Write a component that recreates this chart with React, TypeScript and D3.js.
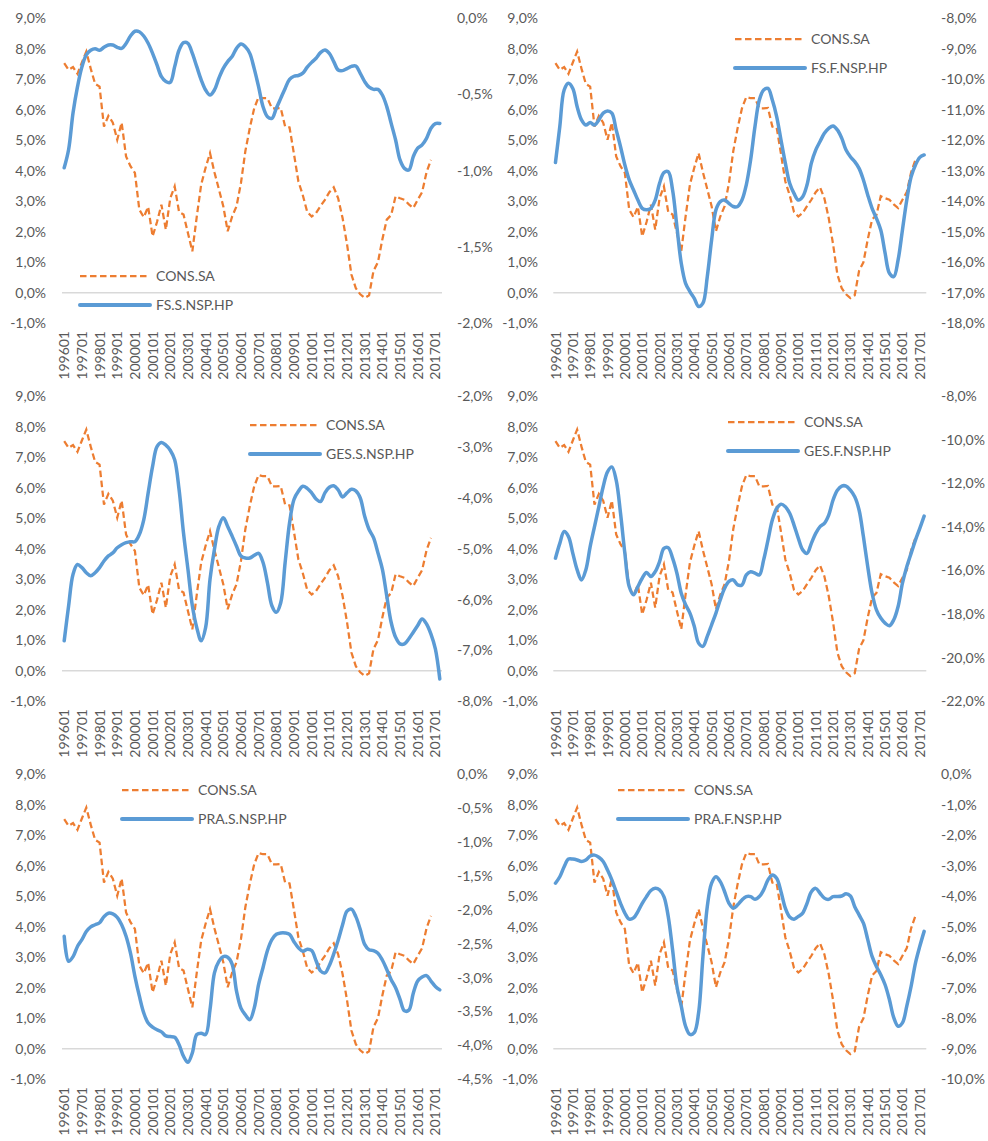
import React from 'react';
import * as d3 from 'd3';

// ---------- DATA ----------
const YEARS = [1996, 1997, 1998, 1999, 2000, 2001, 2002, 2003, 2004, 2005, 2006, 2007, 2008, 2009, 2010, 2011, 2012, 2013, 2014, 2015, 2016, 2017];
const QUARTER_SUFFIX = ['01', '02', '03', '04'];
// 1996Q1 .. 2017Q2 (86 quarters)
const CATEGORIES = YEARS.flatMap((y) => QUARTER_SUFFIX.map((q) => `${y}${q}`)).slice(0, 86);
const TICK_LABELS = YEARS.map((y) => `${y}01`);
const LEFT_TICKS = [-1, 0, 1, 2, 3, 4, 5, 6, 7, 8, 9];

// CONS.SA (left axis, %), 1996Q1 .. 2016Q4
const CONS_SA = [
  7.53, 7.31, 7.40, 7.18, 7.55, 7.91, 7.35, 6.85, 6.76, 5.45,
  5.80, 5.58, 5.02, 5.58, 4.47, 4.15, 3.93, 2.73, 2.48, 2.82,
  1.85, 2.32, 2.89, 2.07, 3.10, 3.49, 2.65, 2.57, 1.96, 1.36,
  2.50, 3.55, 4.10, 4.58, 3.95, 3.40, 2.84, 2.02, 2.50, 2.84,
  3.60, 4.65, 5.40, 6.05, 6.42, 6.38, 6.38, 6.05, 6.05, 6.06,
  5.45, 5.42, 4.55, 3.65, 3.20, 2.65, 2.50, 2.62, 2.84, 3.05,
  3.30, 3.46, 3.10, 2.45, 1.60, 0.60, 0.15, -0.05, -0.17, -0.08,
  0.72, 1.00, 1.75, 2.40, 2.55, 3.17, 3.10, 3.05, 2.90, 2.78,
  3.05, 3.30, 3.95, 4.36,
];

const FS_S_NSP_HP = [
  -0.98, -0.86, -0.62, -0.45, -0.32, -0.24, -0.21, -0.20, -0.21, -0.19,
  -0.175, -0.175, -0.19, -0.197, -0.165, -0.116, -0.085, -0.088, -0.116, -0.164,
  -0.23, -0.306, -0.383, -0.415, -0.42, -0.317, -0.208, -0.16, -0.164, -0.23,
  -0.317, -0.404, -0.47, -0.503, -0.47, -0.393, -0.328, -0.284, -0.251, -0.197,
  -0.168, -0.186, -0.23, -0.33, -0.45, -0.58, -0.645, -0.656, -0.59, -0.525,
  -0.46, -0.40, -0.38, -0.375, -0.36, -0.32, -0.289, -0.262, -0.225, -0.208,
  -0.23, -0.284, -0.339, -0.343, -0.33, -0.315, -0.313, -0.361, -0.415, -0.452,
  -0.466, -0.466, -0.503, -0.579, -0.689, -0.798, -0.929, -0.984, -0.995, -0.907,
  -0.852, -0.83, -0.787, -0.721, -0.69, -0.69,
];

const FS_F_NSP_HP = [
  -12.73, -11.55, -10.35, -10.13, -10.30, -10.90, -11.33, -11.50, -11.42, -11.50,
  -11.33, -11.11, -11.04, -11.11, -11.66, -12.21, -12.81, -13.30, -13.63, -13.96,
  -14.23, -14.28, -14.23, -13.96, -13.41, -13.06, -13.03, -13.63, -14.83, -16.03,
  -16.69, -16.96, -17.18, -17.45, -17.34, -16.47, -15.27, -14.28, -14.01, -13.96,
  -14.07, -14.17, -14.17, -13.96, -13.46, -12.64, -11.55, -10.68, -10.35, -10.30,
  -10.68, -11.22, -11.99, -12.75, -13.41, -13.74, -13.96, -13.85, -13.46, -12.75,
  -12.32, -12.04, -11.77, -11.61, -11.53, -11.66, -11.93, -12.32, -12.54, -12.70,
  -12.92, -13.30, -13.79, -14.23, -14.56, -14.94, -15.70, -16.36, -16.47, -15.92,
  -14.94, -13.96, -13.20, -12.81, -12.56, -12.48,
];

const GES_S_NSP_HP = [
  -6.81, -6.12, -5.50, -5.31, -5.37, -5.47, -5.53, -5.47, -5.37, -5.24,
  -5.14, -5.08, -4.98, -4.92, -4.88, -4.86, -4.86, -4.72, -4.43, -3.90,
  -3.38, -2.99, -2.91, -2.96, -3.06, -3.25, -3.84, -4.69, -5.40, -6.12,
  -6.55, -6.81, -6.55, -5.60, -5.01, -4.56, -4.39, -4.56, -4.75, -4.95,
  -5.14, -5.18, -5.18, -5.13, -5.09, -5.27, -5.67, -6.12, -6.25, -6.06,
  -5.27, -4.49, -4.03, -3.87, -3.77, -3.81, -3.90, -4.02, -4.07, -3.90,
  -3.79, -3.76, -3.84, -3.98, -3.90, -3.83, -3.86, -4.00, -4.36, -4.62,
  -4.78, -5.08, -5.40, -5.93, -6.45, -6.74, -6.87, -6.87, -6.77, -6.64,
  -6.51, -6.38, -6.48, -6.68, -6.97, -7.56,
];

const GES_F_NSP_HP = [
  -15.43, -14.75, -14.21, -14.44, -15.21, -15.97, -16.43, -15.97, -14.90, -13.98,
  -13.07, -12.15, -11.47, -11.24, -11.85, -13.37, -15.21, -16.73, -17.11, -16.73,
  -16.35, -16.09, -16.27, -16.05, -15.59, -14.98, -14.95, -15.43, -16.12, -17.04,
  -17.57, -17.95, -18.56, -19.33, -19.48, -19.02, -18.49, -17.95, -17.34, -16.81,
  -16.50, -16.43, -16.66, -16.66, -16.20, -16.05, -16.12, -16.20, -15.51, -14.60,
  -13.68, -13.15, -12.95, -13.07, -13.37, -13.91, -14.52, -15.05, -15.21, -14.75,
  -14.29, -13.98, -13.83, -13.45, -12.76, -12.31, -12.12, -12.12, -12.31, -12.61,
  -13.22, -14.44, -15.82, -17.04, -17.80, -18.18, -18.41, -18.53, -18.26, -17.65,
  -16.58, -15.82, -15.21, -14.60, -14.06, -13.50,
];

const PRA_S_NSP_HP = [
  -2.39, -2.76, -2.69, -2.54, -2.44, -2.32, -2.25, -2.22, -2.19, -2.10,
  -2.05, -2.06, -2.11, -2.22, -2.39, -2.64, -2.98, -3.27, -3.52, -3.67,
  -3.73, -3.77, -3.80, -3.86, -3.87, -3.88, -3.99, -4.16, -4.25, -4.11,
  -3.84, -3.82, -3.84, -3.47, -2.93, -2.76, -2.69, -2.70, -2.80, -3.20,
  -3.45, -3.55, -3.62, -3.45, -3.10, -2.85, -2.60, -2.44, -2.36, -2.34,
  -2.34, -2.36, -2.47, -2.56, -2.61, -2.58, -2.60, -2.75, -2.90, -2.93,
  -2.82, -2.65, -2.45, -2.22, -2.02, -1.99, -2.10, -2.29, -2.51, -2.59,
  -2.60, -2.64, -2.74, -2.88, -3.03, -3.15, -3.32, -3.49, -3.48, -3.23,
  -3.05, -2.99, -2.97, -3.05, -3.13, -3.18,
];

const PRA_F_NSP_HP = [
  -3.57, -3.36, -3.03, -2.78, -2.78, -2.81, -2.86, -2.81, -2.68, -2.65,
  -2.72, -2.86, -3.14, -3.46, -3.85, -4.23, -4.55, -4.75, -4.71, -4.50,
  -4.23, -4.01, -3.81, -3.74, -3.79, -4.01, -4.66, -5.75, -6.95, -7.60,
  -8.26, -8.53, -8.47, -7.82, -5.97, -4.34, -3.57, -3.36, -3.52, -3.85,
  -4.23, -4.39, -4.28, -4.12, -4.01, -4.01, -4.10, -4.01, -3.79, -3.46,
  -3.30, -3.41, -3.85, -4.39, -4.68, -4.75, -4.66, -4.55, -4.23, -3.85,
  -3.74, -3.90, -4.06, -4.10, -4.01, -4.01, -3.99, -3.92, -3.99, -4.34,
  -4.61, -4.88, -5.42, -5.97, -6.30, -6.57, -6.90, -7.39, -7.98, -8.26,
  -8.15, -7.60, -6.95, -6.19, -5.64, -5.15,
];

const RIGHT_TICKS_FS_S = [-2, -1.5, -1, -0.5, 0];
const RIGHT_TICKS_FS_F = [-18, -17, -16, -15, -14, -13, -12, -11, -10, -9, -8];
const RIGHT_TICKS_GES_S = [-8, -7, -6, -5, -4, -3, -2];
const RIGHT_TICKS_GES_F = [-22, -20, -18, -16, -14, -12, -10, -8];
const RIGHT_TICKS_PRA_S = [-4.5, -4, -3.5, -3, -2.5, -2, -1.5, -1, -0.5, 0];
const RIGHT_TICKS_PRA_F = [-10, -9, -8, -7, -6, -5, -4, -3, -2, -1, 0];

const ORANGE_NAME = 'CONS.SA';

const PANELS = [
  { name: 'FS.S.NSP.HP', data: FS_S_NSP_HP, rightTicks: RIGHT_TICKS_FS_S, col: 0, row: 0, lx: 80, ly: 276 },
  { name: 'FS.F.NSP.HP', data: FS_F_NSP_HP, rightTicks: RIGHT_TICKS_FS_F, col: 1, row: 0, lx: 241, ly: 39 },
  { name: 'GES.S.NSP.HP', data: GES_S_NSP_HP, rightTicks: RIGHT_TICKS_GES_S, col: 0, row: 1, lx: 250, ly: 47 },
  { name: 'GES.F.NSP.HP', data: GES_F_NSP_HP, rightTicks: RIGHT_TICKS_GES_F, col: 1, row: 1, lx: 234, ly: 44 },
  { name: 'PRA.S.NSP.HP', data: PRA_S_NSP_HP, rightTicks: RIGHT_TICKS_PRA_S, col: 0, row: 2, lx: 122, ly: 34 },
  { name: 'PRA.F.NSP.HP', data: PRA_F_NSP_HP, rightTicks: RIGHT_TICKS_PRA_F, col: 1, row: 2, lx: 124, ly: 34 },
];

// ---------- STYLE / LAYOUT ----------
const W = 988;
const H = 1141;
const ORANGE = '#ED7D31';
const BLUE = '#5B9BD5';
const TEXT = '#595959';
const FONT = 'Lato, "Open Sans", "Noto Sans", sans-serif';
const FS = 14;
const COL_W = 494;
const ROW_H = 378;
const COLS = [
  { x0: 62, x1: 442, leftLabel: 46, rightLabel: 457 },
  { x0: 553.3, x1: 926.3, leftLabel: 538, rightLabel: 941 },
];

const fmt = (v: number) => {
  const s = Math.abs(v) < 1e-9 ? '0,0' : v.toFixed(1).replace('.', ',');
  return `${s}%`;
};

function Panel({ p }: { p: (typeof PANELS)[number] }) {
  const c = COLS[p.col];
  const oy = p.row * ROW_H;
  const ox = p.col * COL_W;
  const top = 18.3 + oy;
  const bottom = 323.3 + oy;
  const labelTop = 331 + oy;

  const x = d3.scalePoint<string>().domain(CATEGORIES).range([c.x0, c.x1]).padding(0.5);
  const yL = d3.scaleLinear().domain([-1, 9]).range([bottom, top]);
  const rExt = d3.extent(p.rightTicks) as [number, number];
  const yR = d3.scaleLinear().domain(rExt).range([bottom, top]);

  const orangeLine = d3
    .line<number>()
    .x((_, i) => x(CATEGORIES[i]) as number)
    .y((d) => yL(d))
    .curve(d3.curveLinear);
  const blueLine = d3
    .line<number>()
    .x((_, i) => x(CATEGORIES[i]) as number)
    .y((d) => yR(d))
    .curve(d3.curveCatmullRom.alpha(0.5));

  const legX = ox + p.lx;
  const legY = oy + p.ly;

  return (
    <g>
      {/* zero line */}
      <line x1={c.x0} x2={c.x1} y1={yL(0)} y2={yL(0)} stroke="#D9D9D9" strokeWidth={1.5} />
      {/* left ticks */}
      {LEFT_TICKS.map((t) => (
        <text key={`l${t}`} x={c.leftLabel} y={yL(t)} dy="0.35em" textAnchor="end" fill={TEXT} fontSize={FS} fontFamily={FONT}>
          {fmt(t)}
        </text>
      ))}
      {/* right ticks */}
      {p.rightTicks.map((t) => (
        <text key={`r${t}`} x={c.rightLabel} y={yR(t)} dy="0.35em" textAnchor="start" fill={TEXT} fontSize={FS} fontFamily={FONT}>
          {fmt(t)}
        </text>
      ))}
      {/* category labels */}
      {TICK_LABELS.map((lab) => (
        <text
          key={lab}
          transform={`translate(${x(lab)},${labelTop}) rotate(-90)`}
          dy="0.36em"
          textAnchor="end"
          fill={TEXT}
          fontSize={FS}
          fontFamily={FONT}
        >
          {lab}
        </text>
      ))}
      {/* series */}
      <path d={orangeLine(CONS_SA) || ''} fill="none" stroke={ORANGE} strokeWidth={2.25} strokeDasharray="6.5,3.5" />
      <path d={blueLine(p.data) || ''} fill="none" stroke={BLUE} strokeWidth={3.5} strokeLinejoin="round" strokeLinecap="round" />
      {/* legend */}
      <line x1={legX} x2={legX + 70} y1={legY} y2={legY} stroke={ORANGE} strokeWidth={2.25} strokeDasharray="6.5,3.5" />
      <text x={legX + 76} y={legY} dy="0.35em" fill={TEXT} fontSize={FS} fontFamily={FONT}>
        {ORANGE_NAME}
      </text>
      <line x1={legX} x2={legX + 70} y1={legY + 29} y2={legY + 29} stroke={BLUE} strokeWidth={4} strokeLinecap="round" />
      <text x={legX + 76} y={legY + 29} dy="0.35em" fill={TEXT} fontSize={FS} fontFamily={FONT}>
        {p.name}
      </text>
    </g>
  );
}

export default function App() {
  return (
    <svg width={W} height={H} style={{ position: 'absolute', left: 0, top: 0, background: '#fff' }}>
      <rect x={0} y={0} width={W} height={H} fill="#fff" />
      {PANELS.map((p) => (
        <Panel key={p.name} p={p} />
      ))}
    </svg>
  );
}
